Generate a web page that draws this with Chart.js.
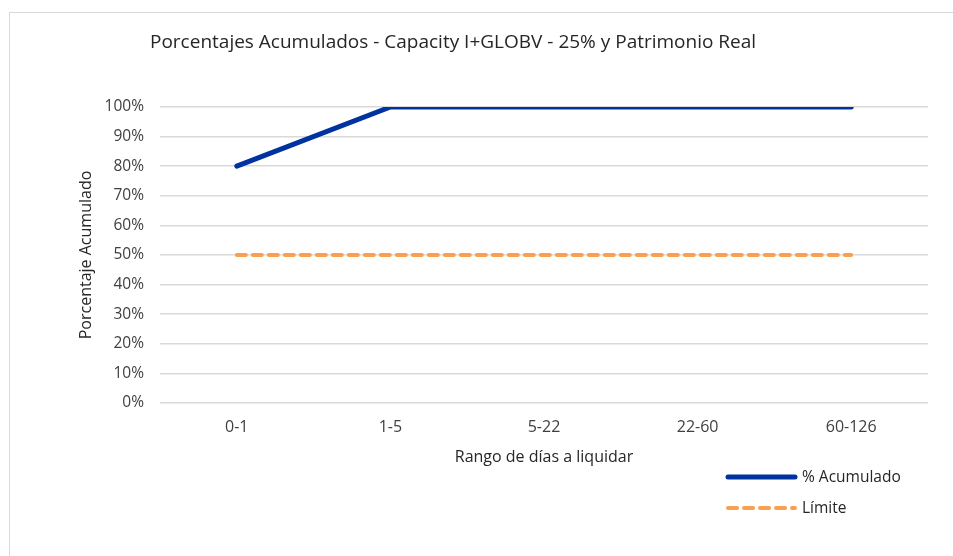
<!DOCTYPE html>
<html lang="es">
  <head>
    <meta charset="UTF-8" />
    <title>Porcentajes Acumulados</title>
    <script src="https://cdn.jsdelivr.net/npm/chart.js@4.4.0/dist/chart.umd.min.js"></script>
    <style>
      html, body { margin: 0; padding: 0; background: #fff; overflow: hidden; }
      #frame {
        position: absolute; left: 9px; top: 12px; width: 980px; height: 600px;
        border: 1px solid #d9d9d9; box-sizing: border-box;
      }
      #wrap { position: absolute; left: 0; top: 0; width: 953px; height: 556px; }
    </style>
  </head>
  <body>
    <div id="frame"></div>
    <div id="wrap"><canvas id="Graph"></canvas></div>

    <script>
      const chartTitle = 'Porcentajes Acumulados - Capacity I+GLOBV - 25% y Patrimonio Real';
      const rangos = ['0-1', '1-5', '5-22', '22-60', '60-126'];
      const acumulado = [0.80, 1.00, 1.00, 1.00, 1.00];
      const limite = [0.50, 0.50, 0.50, 0.50, 0.50];

      const FONT = "'Open Sans', 'Noto Sans', sans-serif";

      // title and vertical legend, drawn like the original
      const extras = {
        id: 'extras',
        afterDraw(chart) {
          const ctx = chart.ctx;
          ctx.save();
          ctx.fillStyle = '#262626';
          ctx.font = '19px ' + FONT;
          ctx.textBaseline = 'middle';
          ctx.textAlign = 'left';
          ctx.fillText(chartTitle, 150, 43);

          chart.data.datasets.forEach((ds, i) => {
            const y = 477 + i * 31;
            ctx.beginPath();
            ctx.strokeStyle = ds.borderColor;
            ctx.lineWidth = ds.borderWidth;
            ctx.lineCap = 'round';
            ctx.setLineDash(ds.borderDash || []);
            ctx.moveTo(728, y);
            ctx.lineTo(795, y);
            ctx.stroke();
            ctx.setLineDash([]);
            ctx.fillStyle = '#262626';
            ctx.font = '15.5px ' + FONT;
            ctx.fillText(ds.label, 802, y + 1);
          });
          ctx.restore();
        }
      };

      const element = document.getElementById('Graph').getContext('2d');
      const Graph = new Chart(element, {
        type: 'line',
        data: {
          labels: rangos,
          datasets: [
            {
              label: '% Acumulado',
              data: acumulado,
              borderColor: '#0033a0',
              backgroundColor: '#0033a0',
              borderWidth: 5,
              borderCapStyle: 'round',
              pointRadius: 0,
              fill: false,
              tension: 0
            },
            {
              label: 'Límite',
              data: limite,
              borderColor: '#f9a04f',
              backgroundColor: '#f9a04f',
              borderWidth: 4,
              borderDash: [9, 7],
              borderCapStyle: 'round',
              pointRadius: 0,
              fill: false,
              tension: 0
            }
          ]
        },
        options: {
          responsive: true,
          maintainAspectRatio: false,
          animation: false,
          layout: { padding: { left: 75, right: 25, top: 107, bottom: 83 } },
          plugins: {
            legend: { display: false },
            title: { display: false },
            tooltip: { enabled: false }
          },
          scales: {
            x: {
              offset: true,
              grid: { display: false, drawTicks: false },
              border: { display: false },
              ticks: { color: '#404040', font: { family: FONT, size: 16 }, padding: 15 },
              title: {
                display: true,
                text: 'Rango de días a liquidar',
                color: '#262626',
                font: { family: FONT, size: 16 },
                padding: { top: 0, bottom: 6 }
              },
              afterFit(scale) { scale.height = 70; }
            },
            y: {
              min: 0,
              max: 1,
              grid: { color: '#d9d9d9', lineWidth: 1.5, drawTicks: false },
              border: { display: false },
              ticks: {
                stepSize: 0.1,
                color: '#404040',
                font: { family: FONT, size: 15.5 },
                padding: 16,
                callback: v => Math.round(v * 100) + '%'
              },
              title: {
                display: true,
                text: 'Porcentaje Acumulado',
                color: '#262626',
                font: { family: FONT, size: 16 },
                padding: { top: 2, bottom: 4 }
              },
              afterFit(scale) { scale.width = 85; }
            }
          }
        },
        plugins: [extras]
      });
    </script>
  </body>
</html>
